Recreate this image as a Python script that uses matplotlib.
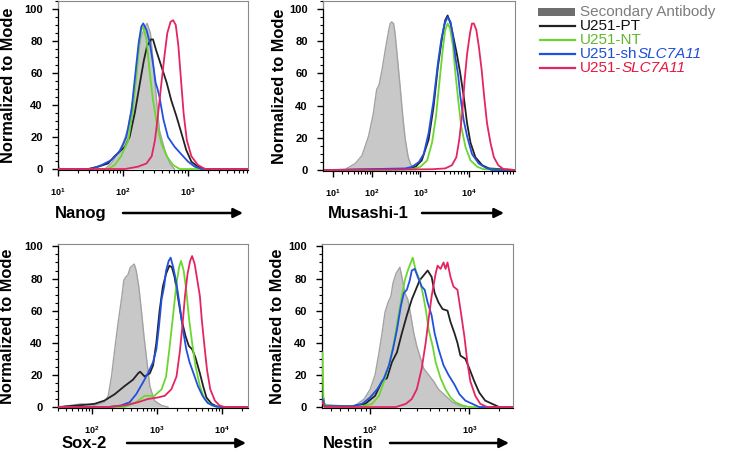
import numpy as np
import matplotlib
matplotlib.use('Agg')
import matplotlib.pyplot as plt
from matplotlib.ticker import FixedLocator, NullFormatter, MultipleLocator
from matplotlib.patches import Rectangle
from matplotlib.lines import Line2D

plt.rcParams['font.family'] = ['Liberation Sans', 'DejaVu Sans']
plt.rcParams['mathtext.fontset'] = 'custom'
plt.rcParams['mathtext.rm'] = 'Liberation Sans'
plt.rcParams['mathtext.it'] = 'Liberation Sans:italic'
plt.rcParams['mathtext.bf'] = 'Liberation Sans:bold'

# histograms: (log10 fluorescence, % of mode)
nanog_sec = [(1.0, 3), (1.03, 0), (1.72, 0), (1.82, 3.5), (1.92, 10), (2.0, 16), (2.08, 26), (2.15, 43),
             (2.22, 68), (2.28, 83), (2.34, 89), (2.37, 91), (2.42, 85), (2.46, 68), (2.51, 45),
             (2.56, 24), (2.64, 12), (2.72, 3.5), (2.79, 0)]
nanog_pt = [(1.0, 0), (1.46, 0), (1.62, 1.5), (1.77, 3.5), (1.87, 8), (1.95, 11), (2.03, 14), (2.10, 20),
            (2.18, 35), (2.26, 54), (2.32, 68), (2.37, 77), (2.43, 81), (2.46, 81), (2.51, 74),
            (2.59, 64), (2.67, 54), (2.74, 43), (2.82, 33), (2.90, 22), (2.97, 12), (3.05, 4.6),
            (3.15, 1.5), (3.26, 0), (3.92, 0)]
nanog_nt = [(1.0, 0), (1.77, 0), (1.87, 2.5), (1.97, 8), (2.08, 18), (2.15, 37), (2.21, 60), (2.25, 79),
            (2.28, 87), (2.31, 89), (2.36, 81), (2.41, 60), (2.46, 43), (2.53, 26), (2.59, 16),
            (2.67, 8), (2.77, 2.5), (2.87, 0), (3.92, 0)]
nanog_sh = [(1.0, 0), (1.51, 0), (1.67, 2.5), (1.82, 5.6), (1.95, 11), (2.05, 20), (2.13, 37), (2.19, 60),
            (2.24, 79), (2.28, 89), (2.31, 91), (2.36, 87), (2.41, 79), (2.46, 66), (2.50, 54),
            (2.53, 50), (2.56, 45), (2.62, 31), (2.69, 20), (2.79, 14), (2.90, 9), (3.0, 4.6),
            (3.10, 1.5), (3.21, 0), (3.92, 0)]
nanog_oe = [(1.0, 0), (2.03, 0), (2.23, 1.5), (2.36, 3.5), (2.44, 8), (2.49, 18), (2.54, 35), (2.59, 54),
            (2.64, 72), (2.68, 85), (2.73, 92), (2.77, 93), (2.81, 90), (2.85, 77), (2.89, 56),
            (2.93, 35), (2.98, 18), (3.05, 8), (3.15, 2.5), (3.26, 0), (3.92, 0)]

musashi_sec = [(1.44, 1), (1.64, 4), (1.79, 9), (1.93, 21), (2.03, 35), (2.10, 50), (2.15, 53),
               (2.21, 62), (2.28, 75), (2.35, 87), (2.38, 91), (2.41, 92), (2.45, 91), (2.48, 85),
               (2.54, 66), (2.59, 50), (2.64, 33), (2.69, 19), (2.75, 8), (2.81, 3), (2.90, 1)]
musashi_pt = [(0.3, 0), (2.69, 0.5), (2.90, 2), (3.03, 6), (3.17, 19), (3.27, 39), (3.36, 64), (3.45, 83),
              (3.51, 93), (3.56, 96), (3.62, 91), (3.69, 81), (3.75, 72), (3.82, 60), (3.89, 46),
              (3.96, 29), (4.03, 17), (4.13, 8), (4.27, 3), (4.41, 1), (4.95, 0)]
musashi_nt = [(0.3, 0), (2.83, 0.5), (3.0, 2), (3.14, 6), (3.24, 17), (3.32, 33), (3.39, 54), (3.46, 75),
              (3.51, 87), (3.56, 91), (3.61, 88), (3.67, 77), (3.72, 60), (3.78, 43), (3.84, 27),
              (3.93, 14), (4.03, 6), (4.17, 2), (4.30, 0.5), (4.95, 0)]
musashi_sh = [(0.3, 0), (2.69, 1), (2.83, 2), (2.97, 5), (3.07, 10), (3.17, 23), (3.27, 43), (3.36, 66),
              (3.43, 81), (3.50, 91), (3.56, 95), (3.62, 92), (3.67, 83), (3.72, 70), (3.78, 58),
              (3.82, 46), (3.89, 31), (3.96, 21), (4.06, 10), (4.20, 4), (4.34, 1.5), (4.47, 0),
              (4.95, 0)]
musashi_oe = [(0.3, 0), (3.24, 0.5), (3.51, 1), (3.65, 3), (3.74, 8), (3.80, 19), (3.86, 35), (3.91, 56),
              (3.96, 72), (4.02, 85), (4.06, 91), (4.10, 91), (4.15, 87), (4.20, 77), (4.26, 62),
              (4.31, 46), (4.37, 29), (4.44, 17), (4.51, 8), (4.60, 3), (4.71, 0.5), (4.95, 0)]

sox2_sec = [(1.58, 0.5), (1.84, 2), (2.04, 1), (2.19, 3), (2.25, 7), (2.30, 19), (2.35, 36), (2.40, 52),
            (2.46, 69), (2.49, 79), (2.52, 81), (2.55, 82), (2.59, 87), (2.65, 89), (2.68, 85),
            (2.72, 75), (2.76, 60), (2.80, 44), (2.84, 30), (2.89, 13), (2.96, 4), (3.07, 1),
            (3.17, 0)]
sox2_pt = [(1.48, 0), (1.78, 1), (2.04, 2), (2.19, 4), (2.35, 8), (2.50, 13), (2.63, 17), (2.71, 21),
           (2.74, 22), (2.81, 19), (2.89, 21), (2.94, 26), (2.99, 40), (3.04, 60), (3.09, 75),
           (3.14, 83), (3.19, 88), (3.23, 87), (3.27, 81), (3.32, 69), (3.38, 54), (3.44, 44),
           (3.49, 38), (3.54, 36), (3.59, 31), (3.66, 21), (3.71, 13), (3.76, 6), (3.84, 2),
           (3.94, 0), (4.4, 0)]
sox2_nt = [(1.48, 0), (2.50, 0), (2.66, 2.5), (2.81, 7), (2.96, 7), (3.07, 11), (3.14, 19), (3.19, 36),
           (3.25, 58), (3.30, 77), (3.34, 87), (3.37, 91), (3.41, 85), (3.45, 73), (3.49, 56),
           (3.54, 40), (3.59, 26), (3.66, 13), (3.73, 5), (3.84, 1), (3.94, 0), (4.4, 0)]
sox2_sh = [(1.48, 0), (2.25, 0), (2.45, 1), (2.58, 3), (2.68, 8), (2.78, 15), (2.86, 21), (2.94, 28),
           (2.99, 36), (3.03, 50), (3.07, 67), (3.11, 75), (3.14, 85), (3.18, 91), (3.21, 93),
           (3.25, 87), (3.30, 77), (3.35, 63), (3.40, 48), (3.45, 36), (3.50, 28), (3.57, 20),
           (3.63, 13), (3.70, 7), (3.78, 2.5), (3.89, 0.5), (3.99, 0), (4.4, 0)]
sox2_oe = [(1.48, 0), (2.25, 0), (2.50, 1), (2.71, 3), (2.86, 5), (3.02, 6), (3.12, 7), (3.22, 11),
           (3.30, 19), (3.35, 34), (3.39, 50), (3.43, 69), (3.47, 83), (3.51, 91), (3.54, 94),
           (3.58, 89), (3.62, 79), (3.66, 69), (3.69, 54), (3.73, 38), (3.77, 23), (3.82, 11),
           (3.89, 4), (3.96, 1), (4.04, 0), (4.4, 0)]

nestin_sec = [(1.72, 0), (1.85, 1), (1.94, 5), (2.0, 11), (2.05, 20), (2.09, 34), (2.12, 46), (2.15, 59),
              (2.18, 65), (2.21, 69), (2.23, 77), (2.26, 83), (2.30, 87), (2.32, 81), (2.35, 71),
              (2.38, 67), (2.41, 57), (2.44, 46), (2.47, 38), (2.51, 30), (2.54, 24), (2.59, 20),
              (2.64, 16), (2.69, 11), (2.76, 7), (2.83, 3), (2.90, 1), (2.96, 0)]
nestin_pt = [(1.52, 9), (1.54, 1), (1.82, 0.5), (1.95, 2), (2.05, 7), (2.12, 16), (2.17, 18), (2.22, 28),
             (2.27, 34), (2.32, 46), (2.37, 57), (2.42, 67), (2.46, 73), (2.50, 79), (2.54, 82),
             (2.58, 85), (2.62, 81), (2.65, 71), (2.69, 65), (2.73, 61), (2.78, 60), (2.81, 53),
             (2.85, 46), (2.88, 40), (2.91, 32), (2.96, 30), (3.0, 24), (3.05, 16), (3.10, 9),
             (3.16, 4), (3.23, 2), (3.30, 0), (3.44, 0)]
nestin_nt = [(1.52, 34), (1.53, 3), (1.57, 0.5), (1.92, 0.5), (2.02, 2), (2.09, 7), (2.14, 16), (2.19, 26),
             (2.24, 40), (2.28, 55), (2.32, 69), (2.35, 79), (2.38, 85), (2.41, 90), (2.43, 93),
             (2.46, 85), (2.50, 79), (2.53, 71), (2.56, 61), (2.59, 48), (2.63, 38), (2.66, 28),
             (2.71, 18), (2.76, 11), (2.81, 6), (2.86, 3), (2.93, 1), (3.0, 0), (3.44, 0)]
nestin_sh = [(1.52, 5), (1.54, 0.5), (1.82, 0.5), (1.92, 2), (2.0, 6), (2.07, 11), (2.14, 18), (2.19, 26),
             (2.23, 36), (2.27, 48), (2.31, 63), (2.34, 71), (2.37, 73), (2.40, 79), (2.42, 85),
             (2.45, 86), (2.48, 81), (2.52, 75), (2.55, 73), (2.58, 65), (2.62, 57), (2.65, 46),
             (2.69, 36), (2.74, 26), (2.79, 20), (2.85, 14), (2.90, 8), (2.96, 4), (3.03, 2),
             (3.10, 0), (3.44, 0)]
nestin_oe = [(1.52, 3), (1.54, 0), (2.26, 0), (2.36, 2), (2.42, 5), (2.47, 11), (2.52, 24), (2.56, 40),
             (2.59, 55), (2.62, 69), (2.66, 83), (2.68, 88), (2.71, 86), (2.74, 90), (2.76, 86),
             (2.78, 90), (2.81, 81), (2.84, 75), (2.88, 73), (2.91, 61), (2.95, 44), (2.98, 28),
             (3.01, 16), (3.06, 7), (3.11, 2), (3.18, 0), (3.44, 0)]

markers = ['Nanog', 'Musashi-1', 'Sox-2', 'Nestin']
# legend entries: upright part, italic gene part
legend_labels = [('Secondary Antibody', ''), ('U251-PT', ''), ('U251-NT', ''),
                 ('U251-sh', 'SLC7A11'), ('U251-', 'SLC7A11')]

W, H = 741, 450
fill_col, fill_edge = '#c8c8c8', '#a2a2a2'
line_cols = ['#222222', '#6cd630', '#2150e0', '#e3265f']
text_cols = ['#7d7d7d', '#111111', '#62b92c', '#1f4fd6', '#e8173f']

fig = plt.figure(figsize=(W / 100, H / 100), dpi=100)


def sup(k):
    return r'$\mathbf{10^{%d}}$' % k


def panel(box, sec, lines, xlim, ylim, majors, label, ylab_x, lab_y, arr, scale='log'):
    l, t, r, b = box
    ax = fig.add_axes([l / W, 1 - b / H, (r - l) / W, (b - t) / H])
    if scale == 'asinh':
        ax.set_xscale('asinh', linear_width=20)
    else:
        ax.set_xscale('log')
    sx = 10 ** np.array([p[0] for p in sec])
    sy = np.array([p[1] for p in sec])
    ax.fill_between(sx, sy, 0, color=fill_col, lw=0, zorder=1)
    ax.plot(sx, sy, color=fill_edge, lw=1.0, zorder=2)
    for data, c in zip(lines, line_cols):
        ax.plot(10 ** np.array([p[0] for p in data]), [p[1] for p in data],
                color=c, lw=1.3, zorder=3)
    ax.set_xlim(*xlim)
    ax.set_ylim(*ylim)
    ax.set_xticks([10 ** k for k in majors], labels=[sup(k) for k in majors])
    minors = [m * 10 ** k for k in range(1, 6) for m in range(2, 10)
              if xlim[0] < m * 10 ** k < xlim[1]]
    ax.xaxis.set_minor_locator(FixedLocator(minors))
    ax.xaxis.set_minor_formatter(NullFormatter())
    ax.set_yticks([0, 20, 40, 60, 80, 100])
    ax.yaxis.set_minor_locator(MultipleLocator(5))
    ax.tick_params(axis='x', which='major', length=4, width=1, pad=8, labelsize=6.5)
    ax.tick_params(axis='x', which='minor', length=2.5, width=0.8)
    ax.tick_params(axis='y', which='major', length=4, width=1, pad=7, labelsize=8)
    ax.tick_params(axis='y', which='minor', length=2, width=0.8)
    for lab in ax.get_yticklabels():
        lab.set_fontweight('bold')
    for s in ['top', 'right']:
        ax.spines[s].set_color('#8a8a8a')
    ax.spines['bottom'].set_color('black')
    ax.plot([0, 0], [0, 1], transform=ax.transAxes, color='#8a8a8a', lw=1, clip_on=False, zorder=0)
    ax.spines['left'].set_bounds(0, 100)
    ax.spines['left'].set_color('black')
    fig.text(ylab_x / W, 1 - (t + b) / 2 / H, 'Normalized to Mode', fontsize=11.8,
             fontweight='bold', rotation=90, ha='center', va='center')
    fig.text(label[1] / W, 1 - lab_y / H, label[0], fontsize=12, fontweight='bold', va='center')
    ax.annotate('', xy=(arr[1] / W, 1 - lab_y / H), xytext=(arr[0] / W, 1 - lab_y / H),
                xycoords='figure fraction', textcoords='figure fraction',
                arrowprops=dict(arrowstyle='-|>', color='black', lw=1.8, mutation_scale=14,
                                shrinkA=0, shrinkB=0))
    return ax


panel((58, 1, 248, 170), nanog_sec, [nanog_pt, nanog_nt, nanog_sh, nanog_oe],
      (10 ** 1.0, 10 ** 3.92), (-0.6, 105), [1, 2, 3], (markers[0], 55), 9, 213, (123, 243))
panel((323, 1, 515, 171), musashi_sec, [musashi_pt, musashi_nt, musashi_sh, musashi_oe],
      (0, 88000), (-0.6, 105), [1, 2, 3, 4], (markers[1], 328), 279, 213, (422, 504), scale='asinh')
panel((58, 244, 248, 408), sox2_sec, [sox2_pt, sox2_nt, sox2_sh, sox2_oe],
      (10 ** 1.477, 10 ** 4.4), (-0.6, 101.5), [2, 3, 4], (markers[2], 62), 8, 443, (127, 246))
panel((322, 244, 513, 408), nestin_sec, [nestin_pt, nestin_nt, nestin_sh, nestin_oe],
      (10 ** 1.515, 10 ** 3.44), (-0.6, 101.5), [2, 3], (markers[3], 323), 278, 443, (390, 509))

# legend drawn by hand in the top right corner
leg_y = [12, 25.5, 39.5, 53.5, 68]
fig.patches.append(Rectangle((538 / W, 1 - 16 / H), 37 / W, 8 / H, transform=fig.transFigure,
                             facecolor='#6e6e6e', edgecolor='none'))
for yy, c in zip(leg_y[1:], line_cols):
    fig.add_artist(Line2D([540 / W, 575 / W], [1 - yy / H, 1 - yy / H], color=c, lw=1.6,
                          transform=fig.transFigure))
renderer = fig.canvas.get_renderer()
for yy, (txt, gene), c in zip(leg_y, legend_labels, text_cols):
    t1 = fig.text(580 / W, 1 - yy / H, txt, fontsize=11, color=c, va='center')
    if gene:
        x_end = t1.get_window_extent(renderer).x1
        fig.text(x_end / W, 1 - yy / H, gene, fontsize=11, color=c, va='center', style='italic')

fig.savefig('out.png', dpi=100)
